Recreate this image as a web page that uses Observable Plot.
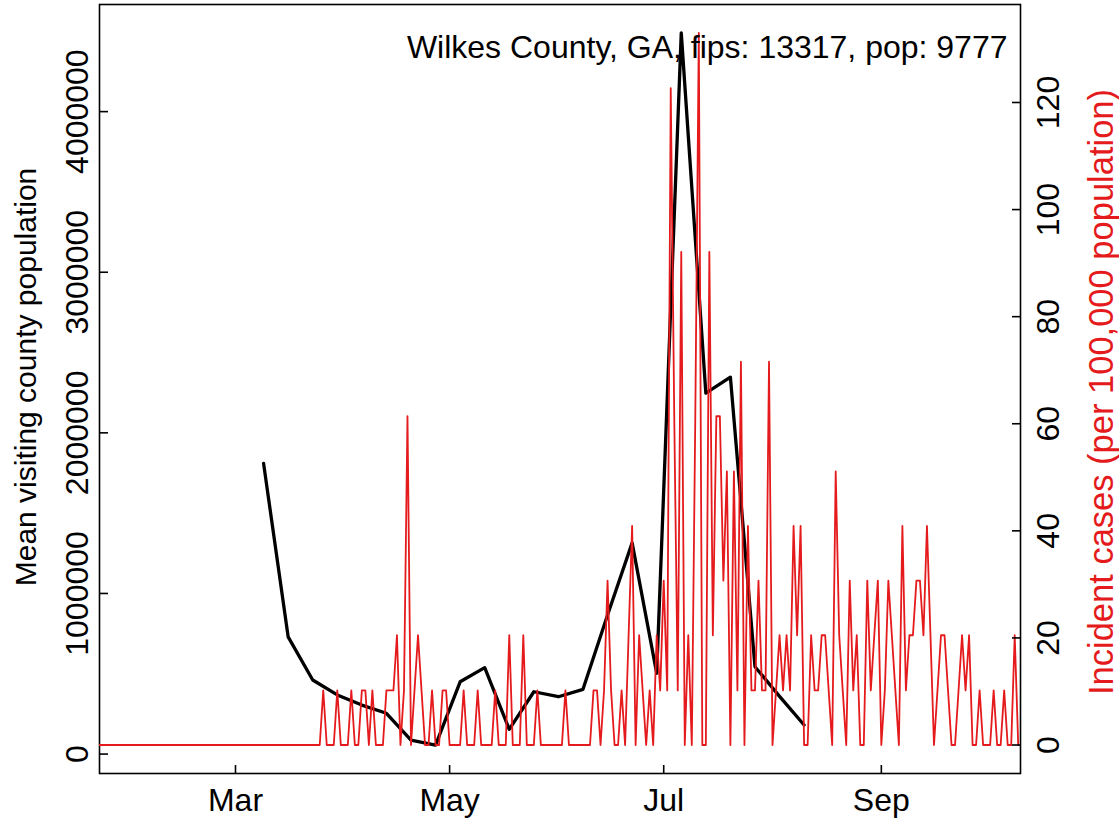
<!DOCTYPE html>
<html>
<head>
<meta charset="utf-8">
<script src="https://cdn.jsdelivr.net/npm/d3@7"></script>
<script src="https://cdn.jsdelivr.net/npm/@observablehq/plot@0.6"></script>
<style>
  html, body { margin: 0; padding: 0; background: #fff; overflow: hidden; }
  #wrap { position: relative; width: 1119px; height: 822px; }
  #wrap svg { position: absolute; left: 0; top: 0; }
</style>
</head>
<body>
<div id="wrap"></div>
<script>
// ---- text ----
const titleText = "Wilkes County, GA, fips: 13317, pop: 9777";
const leftLabel = "Mean visiting county population";
const rightLabel = "Incident cases (per 100,000 population)";

// ---- weekly mean visiting county population (black line) ----
const weekDates = ["2020-03-09","2020-03-16","2020-03-23","2020-03-30","2020-04-06","2020-04-13",
  "2020-04-20","2020-04-27","2020-05-04","2020-05-11","2020-05-18","2020-05-25","2020-06-01",
  "2020-06-08","2020-06-15","2020-06-22","2020-06-29","2020-07-06","2020-07-13","2020-07-20",
  "2020-07-27","2020-08-03","2020-08-10"];
const visitors = [1810000, 730000, 461000, 368000, 305000, 254000,
  87000, 56000, 450000, 538000, 154000, 388000, 357000,
  403000, 866000, 1315000, 503000, 4490000, 2247000, 2347000,
  544000, 359000, 181000];

// ---- daily incident cases per 100,000 (red line), starting 2020-01-22 ----
const caseStart = "2020-01-22";
const incidence = [
  0,0,0,0,0,0,0,0,0,0,0,0,0,0,0,0,
  0,0,0,0,0,0,0,0,0,0,0,0,0,0,0,0,
  0,0,0,0,0,0,0,0,0,0,0,0,0,0,0,0,
  0,0,0,0,0,0,0,0,0,0,0,0,0,0,0,0,
  10.2,0,0,0,10.2,0,0,0,10.2,0,
  0,10.2,10.2,0,10.2,0,0,0,10.2,10.2,
  10.2,20.5,0,10.2,61.4,0,10.2,20.5,10.2,0,
  0,10.2,0,0,10.2,10.2,0,0,0,0,
  10.2,0,0,0,10.2,0,0,0,0,10.2,
  0,0,0,20.5,0,0,0,20.5,0,0,
  0,10.2,0,0,0,0,0,0,0,10.2,
  0,0,0,0,0,0,0,10.2,10.2,0,
  10.2,30.7,10.2,0,0,10.2,0,20.5,40.9,0,
  20.5,10.2,0,10.2,0,20.5,10.2,30.7,10.2,122.7,
  61.4,10.2,92.1,0,20.5,0,61.4,133.0,0,0,
  92.1,20.5,61.4,61.4,30.7,51.1,0,51.1,10.2,71.6,
  0,40.9,10.2,10.2,30.7,10.2,10.2,71.6,0,10.2,
  20.5,10.2,20.5,10.2,40.9,20.5,40.9,0,0,20.5,
  10.2,10.2,20.5,20.5,10.2,0,51.1,20.5,10.2,0,
  30.7,10.2,20.5,0,0,30.7,10.2,20.5,30.7,0,
  10.2,30.7,20.5,10.2,0,40.9,10.2,20.5,20.5,30.7,
  30.7,20.5,40.9,20.5,0,10.2,20.5,20.5,10.2,0,
  0,10.2,20.5,10.2,20.5,0,0,10.2,0,0,
  0,10.2,0,0,10.2,0,0,20.5,0
];

// ---- ticks ----
const monthTicks = ["2020-03-01","2020-05-01","2020-07-01","2020-09-01"];
const leftTicks = [0, 1000000, 2000000, 3000000, 4000000];
const rightTicks = [0, 20, 40, 60, 80, 100, 120];

// ---- tables built from the arrays ----
const blackData = weekDates.map((d, i) => ({date: new Date(d), value: visitors[i]}));
const redData = incidence.map((v, i) => ({date: d3.utcDay.offset(new Date(caseStart), i), value: v}));

const xDomain = [new Date("2020-01-22T06:06:00Z"), new Date("2020-10-10T15:36:00Z")];
const common = {
  width: 1119, height: 822,
  marginLeft: 99, marginRight: 99, marginTop: 4, marginBottom: 49,
  style: {
    fontFamily: "'Liberation Sans', Arial, Helvetica, sans-serif",
    fontSize: "32px",
    background: "transparent",
    overflow: "visible",
    color: "black"
  }
};

const plotBlack = Plot.plot({
  ...common,
  x: {type: "utc", domain: xDomain},
  y: {domain: [-121000, 4667000]},
  marks: [
    Plot.frame({stroke: "black", strokeWidth: 1.6}),
    Plot.axisX(monthTicks.map(d => new Date(d)), {
      anchor: "bottom", tickSize: -8, tickPadding: 22.7,
      tickFormat: d3.utcFormat("%b"), strokeWidth: 1.6, label: null
    }),
    Plot.axisY(leftTicks, {
      anchor: "left", tickSize: -9, tickPadding: 21, tickRotate: -90,
      tickFormat: d => String(d), strokeWidth: 1.6, label: null
    }),
    Plot.text([leftLabel], {
      text: d => d, frameAnchor: "left", dx: -64, dy: -12, rotate: -90,
      lineAnchor: "bottom", textAnchor: "middle", fill: "black", fontSize: 30
    }),
    Plot.line(blackData, {
      x: "date", y: "value", stroke: "black", strokeWidth: 3.3,
      strokeLinejoin: "round", strokeLinecap: "round", clip: true
    })
  ]
});

const plotRed = Plot.plot({
  ...common,
  x: {type: "utc", domain: xDomain, axis: null},
  y: {domain: [-5.32, 138.3]},
  marks: [
    Plot.line(redData, {
      x: "date", y: "value", stroke: "#e41a1c", strokeWidth: 1.8,
      strokeLinejoin: "round", clip: true
    }),
    Plot.axisY(rightTicks, {
      anchor: "right", tickSize: -9, tickPadding: 47, tickRotate: -90,
      tickFormat: d => String(d), strokeWidth: 1.6, label: null
    }),
    Plot.text([rightLabel], {
      text: d => d, frameAnchor: "right", dx: 92, dy: 3, rotate: -90,
      lineAnchor: "bottom", textAnchor: "middle", fill: "#e41a1c", fontSize: 34.5
    }),
    Plot.text([titleText], {
      text: d => d, frameAnchor: "top-right", dx: -13, dy: 53,
      textAnchor: "end", lineAnchor: "bottom", fill: "black"
    })
  ]
});

const wrap = document.getElementById("wrap");
wrap.appendChild(plotBlack);
wrap.appendChild(plotRed);
</script>
</body>
</html>
